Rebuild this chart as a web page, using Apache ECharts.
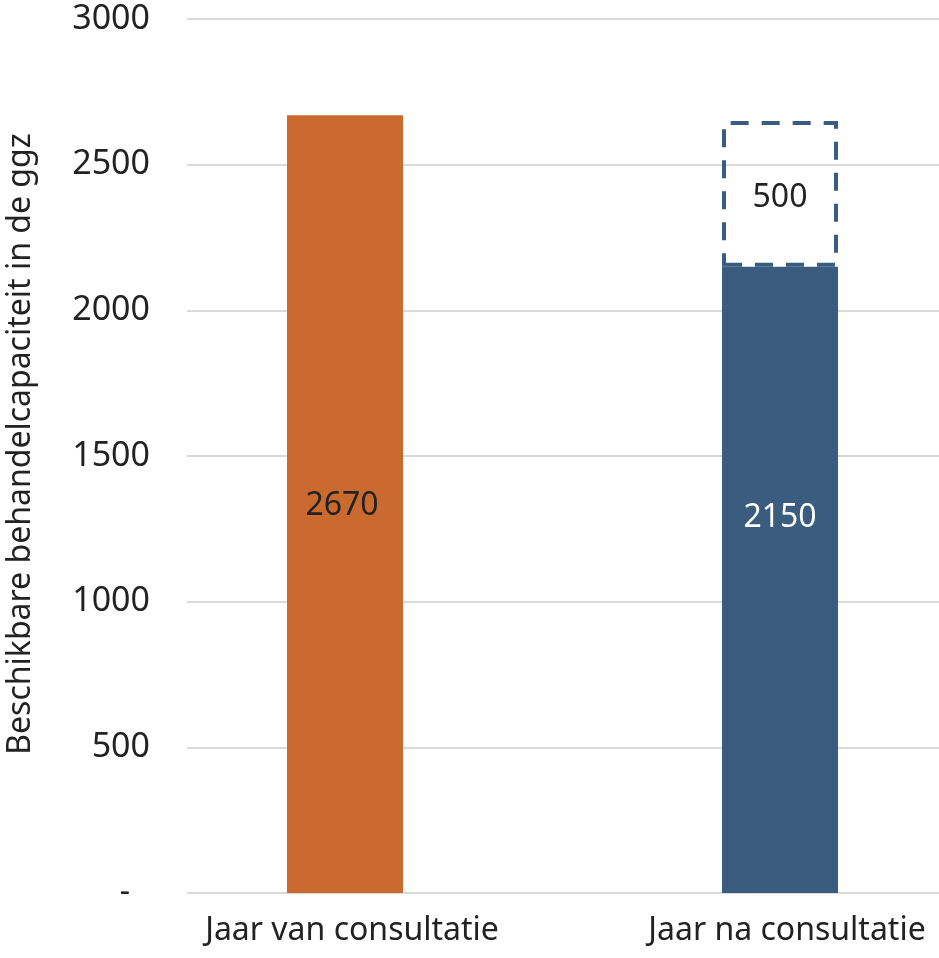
<!DOCTYPE html>
<html>
<head>
<meta charset="utf-8">
<script src="https://cdn.jsdelivr.net/npm/echarts@6/dist/echarts.min.js"></script>
<style>html,body{margin:0;padding:0;background:#fff;}#c{width:939px;height:958px;}</style>
</head>
<body>
<div id="c"></div>
<script>
const categories = ['Jaar van consultatie', 'Jaar na consultatie'];
const baseValues = [2670, 2150];
const extraValues = [null, 500];
const yTicks = [0, 500, 1000, 1500, 2000, 2500, 3000];
const yTitle = 'Beschikbare behandelcapaciteit in de ggz';

const FONT = 'Noto Sans';
const orange = '#CB6A2F';
const blue = '#3A5C7E';
const textColor = '#222222';

const chart = echarts.init(document.getElementById('c'));
chart.setOption({
  animation: false,
  textStyle: { fontFamily: FONT },
  grid: [
    { left: 187, right: 0, top: 19, bottom: 65, outerBoundsMode: 'none' },
    { left: 127.5, width: 870, top: 19, bottom: 65, outerBoundsMode: 'none' }
  ],
  xAxis: [
    { gridIndex: 0, type: 'category', data: categories, show: false },
    {
      gridIndex: 1, type: 'category', data: categories,
      axisLine: { show: false }, axisTick: { show: false },
      axisLabel: { color: textColor, fontSize: 32, fontFamily: FONT, margin: 22, padding: [0, 0, 0, 14] }
    }
  ],
  yAxis: [
    {
      gridIndex: 0, type: 'value', min: yTicks[0], max: yTicks[yTicks.length - 1], interval: 500,
      axisLine: { show: false }, axisTick: { show: false },
      splitLine: { lineStyle: { color: '#DADADA', width: 2 } },
      axisLabel: {
        color: textColor, fontSize: 34, fontFamily: FONT, margin: 37,
        formatter: v => v === 0 ? '{d|-}' : String(v),
        rich: { d: { fontSize: 32, fontFamily: FONT, color: textColor, padding: [0, 20, 0, 0] } }
      },
      name: yTitle, nameLocation: 'middle', nameGap: 150, nameRotate: 90,
      nameTextStyle: { color: textColor, fontSize: 32, fontFamily: FONT, padding: [0, 0, 0, 24] }
    },
    {
      gridIndex: 1, type: 'value', min: yTicks[0], max: yTicks[yTicks.length - 1], interval: 500,
      show: false, splitLine: { show: false }
    }
  ],
  series: [
    {
      type: 'bar', xAxisIndex: 1, yAxisIndex: 1, stack: 'total', barWidth: 116,
      data: baseValues.map((v, i) => ({
        value: v,
        itemStyle: { color: i === 0 ? orange : blue },
        label: {
          show: true, position: 'inside', fontSize: 32, fontFamily: FONT,
          color: i === 0 ? textColor : '#FFFFFF',
          offset: i === 0 ? [-3, 2] : [0, -62]
        }
      }))
    },
    {
      type: 'bar', xAxisIndex: 1, yAxisIndex: 1, stack: 'total', barWidth: 116,
      data: extraValues.map(v => v === null ? '-' : v),
      itemStyle: {
        color: 'rgba(255,255,255,0)', borderColor: blue, borderWidth: 4,
        borderType: [18, 13]
      },
      label: { show: true, position: 'inside', fontSize: 32, fontFamily: FONT, color: textColor, offset: [0, 4] }
    }
  ]
});
</script>
</body>
</html>
